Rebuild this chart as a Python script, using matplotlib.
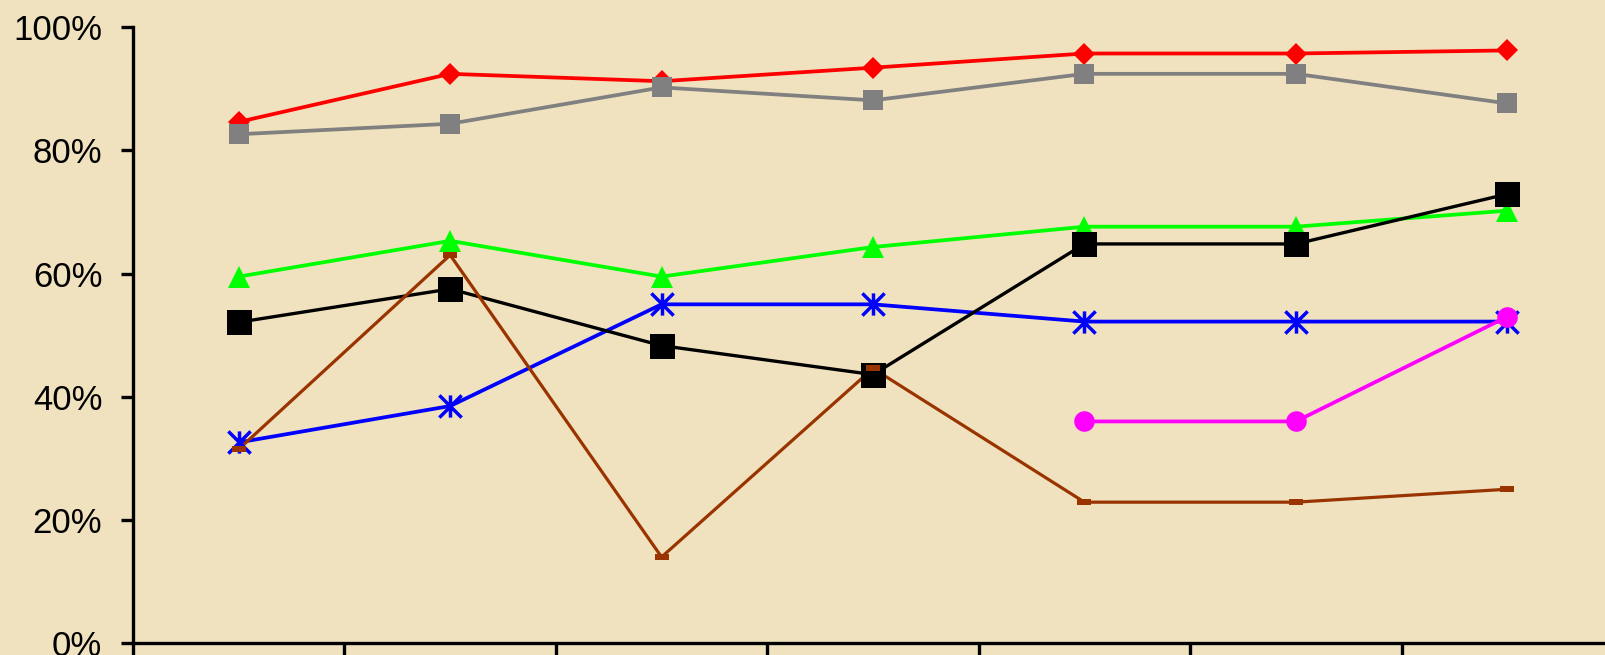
import matplotlib
matplotlib.use("Agg")
import matplotlib.pyplot as plt
from matplotlib.path import Path
from matplotlib.ticker import FixedLocator, PercentFormatter

# ---- data (values in %) ----
categories = ["1", "2", "3", "4", "5", "6", "7"]
red_vals = [84.6, 92.4, 91.2, 93.4, 95.7, 95.7, 96.2]
gray_vals = [82.6, 84.3, 90.2, 88.1, 92.4, 92.4, 87.6]
green_vals = [59.5, 65.3, 59.5, 64.3, 67.6, 67.6, 70.2]
blue_vals = [32.6, 38.5, 55.0, 55.0, 52.2, 52.2, 52.2]
black_vals = [52.1, 57.5, 48.3, 43.6, 64.8, 64.8, 72.9]
brown_vals = [31.5, 63.0, 14.0, 44.6, 22.9, 22.9, 25.0]
magenta_cats = ["5", "6", "7"]
magenta_vals = [36.0, 36.0, 53.0]
y_ticks = [0, 20, 40, 60, 80, 100]

bg = "#F0E2BE"
plt.rcParams["font.family"] = ["Liberation Sans", "DejaVu Sans"]

fig = plt.figure(figsize=(16.06, 6.55), dpi=100, facecolor=bg)
ax = fig.add_axes([133 / 1606, 11.7 / 655, 1480 / 1606, 616.3 / 655])
ax.set_facecolor(bg)

xpos = {c: i + 0.5 for i, c in enumerate(categories)}

star = Path([(0, -1), (0, 1), (-1, -1), (1, 1), (-1, 1), (1, -1)],
            [Path.MOVETO, Path.LINETO, Path.MOVETO, Path.LINETO, Path.MOVETO, Path.LINETO])
dash = [(-1, -0.5), (1, -0.5), (1, 0.5), (-1, 0.5), (-1, -0.5)]

series = [
    (categories, red_vals, "#FF0000", "D", 11.5, 2.7, {}),
    (categories, gray_vals, "#808080", "s", 14.8, 2.7, {}),
    (categories, green_vals, "#00FF00", "^", 16.5, 2.7, {}),
    (categories, blue_vals, "#0000FF", star, 16.0, 2.7,
     dict(markerfacecolor="none", markeredgecolor="#0000FF", markeredgewidth=2.5)),
    (categories, black_vals, "#000000", "s", 18.0, 2.4, {}),
    (categories, brown_vals, "#993300", dash, 9.5, 2.3, {}),
    (magenta_cats, magenta_vals, "#FF00FF", "o", 14.8, 2.7, {}),
]

# lines first (all series), then markers on top
for k, (cats, vals, col, mk, ms, lw, extra) in enumerate(series):
    xs = [xpos[c] for c in cats]
    ax.plot(xs, vals, color=col, lw=lw, zorder=2 + k * 0.01, solid_capstyle="butt")
for k, (cats, vals, col, mk, ms, lw, extra) in enumerate(series):
    xs = [xpos[c] for c in cats]
    kw = dict(markerfacecolor=col, markeredgewidth=0)
    kw.update(extra)
    ax.plot(xs, vals, ls="none", marker=mk, markersize=ms, zorder=3 + k * 0.01, clip_on=False, **kw)

ax.set_xlim(0, 7)
ax.set_ylim(0, 100)
ax.xaxis.set_major_locator(FixedLocator(range(0, 8)))
ax.set_xticklabels([])
ax.yaxis.set_major_locator(FixedLocator(y_ticks))
ax.yaxis.set_major_formatter(PercentFormatter(decimals=0))

for s in ["top", "right"]:
    ax.spines[s].set_visible(False)
for s in ["left", "bottom"]:
    ax.spines[s].set_linewidth(2.4)
    ax.spines[s].set_color("black")
ax.tick_params(axis="both", direction="out", length=8.6, width=2.4, color="black")
ax.tick_params(axis="y", labelsize=25, pad=13.5)

fig.savefig("out.png", dpi=100, facecolor=bg)
